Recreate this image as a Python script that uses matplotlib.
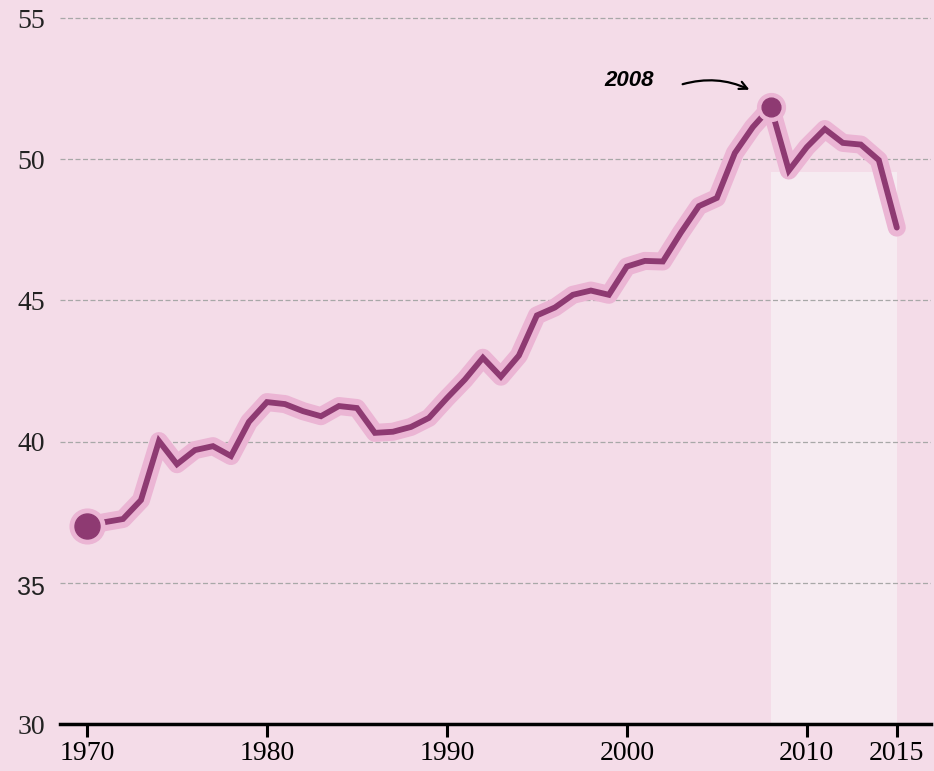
import matplotlib
matplotlib.use('Agg')
import matplotlib.pyplot as plt
from matplotlib.patches import Rectangle

# values
years = list(range(1970, 2016))
values = [37.01, 37.15, 37.26, 37.93, 40.02, 39.20, 39.70, 39.84, 39.49, 40.70,
          41.40, 41.33, 41.08, 40.90, 41.26, 41.19, 40.31, 40.35, 40.52, 40.84,
          41.54, 42.20, 42.97, 42.30, 43.05, 44.47, 44.75, 45.20, 45.35, 45.20,
          46.20, 46.40, 46.38, 47.40, 48.34, 48.63, 50.22, 51.14, 51.85, 49.60,
          50.43, 51.07, 50.58, 50.52, 49.97, 47.58]
yticks = [30, 35, 40, 45, 50, 55]
xticks = [1970, 1980, 1990, 2000, 2010, 2015]
peak_year = 2008
shade_end = 2015
shade_top = 49.55

bg = '#f4dce8'
dark = '#8e3a72'
halo = '#ebb5d4'

fig = plt.figure(figsize=(9.34, 7.71), dpi=100)
fig.patch.set_facecolor(bg)
ax = fig.add_axes([60/934, 47/771, 871/934, 724/771])
ax.set_facecolor(bg)

ax.set_xlim(1968.5, 2016.9)
ax.set_ylim(30, 55.64)

# lighter block after the peak
ax.add_patch(Rectangle((peak_year, 30), shade_end - peak_year, shade_top - 30,
                       facecolor='#f6ebf1', edgecolor='none', zorder=1))

for y in yticks[1:]:
    ax.axhline(y, color='#a8a8a8', lw=0.9, ls=(0, (4, 2)), zorder=2)

ax.plot(years, values, color=halo, lw=13, solid_capstyle='round',
        solid_joinstyle='round', zorder=3)
ax.plot(years, values, color=dark, lw=4.2, solid_capstyle='round',
        solid_joinstyle='miter', zorder=4)

ax.plot(years[0], values[0], 'o', ms=25, color=halo, zorder=5)
ax.plot(years[0], values[0], 'o', ms=18, color=dark, zorder=6)
i = years.index(peak_year)
ax.plot(years[i], values[i], 'o', ms=20, color=halo, zorder=5)
ax.plot(years[i], values[i], 'o', ms=13.5, color=dark, zorder=6)

ax.annotate('', xy=(2006.95, 52.42), xytext=(2002.95, 52.63),
            arrowprops=dict(arrowstyle='->', color='black', lw=1.6,
                            mutation_scale=14,
                            connectionstyle='arc3,rad=-0.2'), zorder=7)
ax.text(2001.5, 52.8, '2008', fontsize=16, fontstyle='italic',
        fontweight='bold', family='Liberation Sans', ha='right', va='center')

for s in ['top', 'right', 'left']:
    ax.spines[s].set_visible(False)
ax.spines['bottom'].set_linewidth(2.5)
ax.spines['bottom'].set_zorder(8)

ax.set_xticks(xticks)
ax.set_xticklabels([str(x) for x in xticks], family='Liberation Serif', fontsize=20)
ax.tick_params(axis='x', length=9, width=2.2, direction='out', pad=3)

# the 35 label is drawn in a sans face in the original, so it gets its own text
ax.set_yticks(yticks)
ax.set_yticklabels(['' if v == 35 else str(v) for v in yticks],
                   fontsize=20, family='Liberation Serif', color='#222222')
ax.tick_params(axis='y', length=0, pad=11)
ax.annotate('35', xy=(0, 35), xycoords=('axes fraction', 'data'),
            xytext=(-11, -4), textcoords='offset points', ha='right', va='center',
            fontsize=18, family='Liberation Sans', color='#222222')

fig.savefig('out.png', dpi=100, facecolor=bg)
